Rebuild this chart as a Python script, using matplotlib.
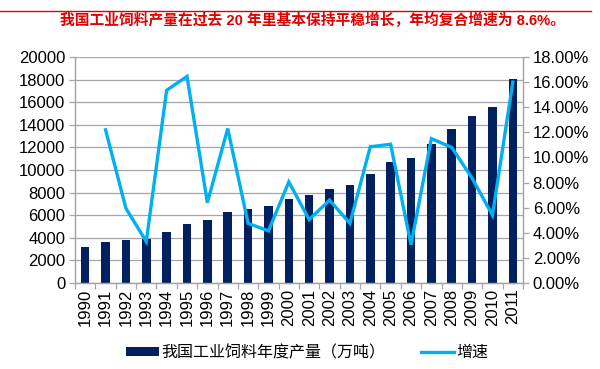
import matplotlib
matplotlib.use("Agg")
import matplotlib.pyplot as plt
from matplotlib.lines import Line2D
from matplotlib.patches import Patch
from matplotlib.ticker import FuncFormatter, MultipleLocator

plt.rcParams['font.family'] = ['Liberation Sans', 'Noto Sans CJK SC', 'DejaVu Sans']

years = [str(y) for y in range(1990, 2012)]
output = [3180, 3590, 3790, 3910, 4530, 5260, 5590, 6290, 6560, 6850, 7410,
          7760, 8290, 8680, 9620, 10710, 11030, 12290, 13650, 14760, 15590, 18090]
growth = [None, 12.2, 5.95, 3.3, 15.35, 16.45, 6.4, 12.3, 4.75, 4.15, 8.05,
          5.05, 6.6, 4.75, 10.85, 11.05, 3.05, 11.5, 10.8, 8.35, 5.4, 16.0]

title = "我国工业饲料产量在过去 20 年里基本保持平稳增长，年均复合增速为 8.6%。"
bar_label = "我国工业饲料年度产量（万吨）"
line_label = "增速"

bar_color = "#002060"
line_color = "#00B0F0"
grid_color = "#A6A6A6"

fig = plt.figure(figsize=(6, 3.69), dpi=100)
ax = fig.add_axes([75 / 600, (369 - 283) / 369, 448 / 600, 226 / 369])
ax2 = ax.twinx()

x = list(range(len(years)))
ax.bar(x, output, width=0.42, color=bar_color, zorder=2)
gx = [i for i, g in zip(x, growth) if g is not None]
gy = [g for g in growth if g is not None]
ax2.plot(gx, gy, color=line_color, lw=2.4, solid_joinstyle='miter', zorder=3)

ax.set_xlim(-0.5, len(years) - 0.5)
ax.set_ylim(0, 20000)
ax.yaxis.set_major_locator(MultipleLocator(2000))
ax2.set_ylim(0, 18)
ax2.yaxis.set_major_locator(MultipleLocator(2))
ax2.yaxis.set_major_formatter(FuncFormatter(lambda v, p: "%.2f%%" % v))

ax.grid(axis='y', color=grid_color, lw=0.9, zorder=0)
ax.set_axisbelow(True)

ax.set_xticks(x)
ax.set_xticklabels(years, rotation=90, fontsize=12)
ax.set_xticks([i - 0.5 for i in range(len(years) + 1)], minor=True)
ax.tick_params(axis='x', which='major', length=0, pad=4)
ax.tick_params(axis='x', which='minor', length=4, color=grid_color, width=0.9)
ax.tick_params(axis='y', labelsize=12, length=4, color=grid_color, width=0.9, pad=3)
ax2.tick_params(axis='y', labelsize=12, length=4, color=grid_color, width=0.9, pad=3)

for a in (ax, ax2):
    a.spines['top'].set_visible(False)
    for s in ('left', 'right', 'bottom'):
        a.spines[s].set_color(grid_color)
        a.spines[s].set_linewidth(0.9)

fig.add_artist(Line2D([0, 0.985], [0.971, 0.971], color="#E00000", lw=1.0))
fig.text(0.52, 0.945, title, color="#E00000", fontweight='bold', fontsize=10.6,
         ha='center', va='center')

handles = [Patch(facecolor=bar_color, edgecolor='none'),
           Line2D([], [], color=line_color, lw=2.4)]
fig.legend(handles, [bar_label, line_label], loc='center', bbox_to_anchor=(0.512, 0.045),
           ncol=2, frameon=False, handlelength=2.1, handleheight=0.5,
           handletextpad=0.15, columnspacing=2.2,
           prop={'family': ['Noto Sans CJK SC', 'DejaVu Sans'], 'size': 11.5})

fig.savefig("out.png", dpi=100)
